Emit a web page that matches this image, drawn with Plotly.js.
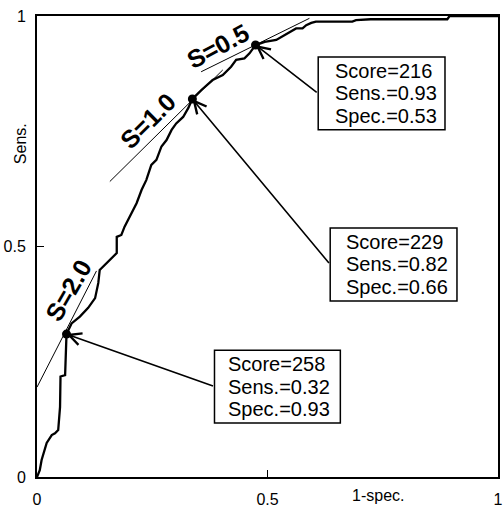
<!DOCTYPE html>
<html>
<head>
<meta charset="utf-8">
<script src="https://cdn.plot.ly/plotly-3.0.1.min.js"></script>
<style>html,body{margin:0;padding:0;background:#fff;}#chart{width:503px;height:507px;}</style>
</head>
<body>
<div id="chart"></div>
<script>
// ROC curve (1-spec., Sens.)
const rocX = [0, 0.006, 0.010, 0.017, 0.021, 0.032, 0.039, 0.046, 0.050, 0.051, 0.061, 0.064, 0.075, 0.093, 0.111, 0.126, 0.133, 0.136, 0.147, 0.162, 0.173, 0.173, 0.183, 0.190, 0.205, 0.216, 0.227, 0.237, 0.248, 0.259, 0.270, 0.281, 0.292, 0.302, 0.317, 0.328, 0.337, 0.356, 0.381, 0.403, 0.421, 0.432, 0.450, 0.461, 0.474, 0.494, 0.519, 0.537, 0.551, 0.562, 0.576, 0.584, 0.595, 0.605, 0.634, 0.684, 0.692, 0.724, 0.890, 0.895, 1.0];
const rocY = [0, 0.015, 0.037, 0.059, 0.074, 0.091, 0.095, 0.102, 0.152, 0.218, 0.221, 0.310, 0.333, 0.348, 0.367, 0.388, 0.421, 0.449, 0.460, 0.475, 0.486, 0.521, 0.525, 0.543, 0.573, 0.594, 0.623, 0.644, 0.677, 0.688, 0.717, 0.731, 0.753, 0.767, 0.781, 0.800, 0.820, 0.839, 0.861, 0.872, 0.890, 0.905, 0.908, 0.919, 0.937, 0.944, 0.948, 0.959, 0.966, 0.973, 0.973, 0.980, 0.985, 0.988, 0.988, 0.988, 0.991, 0.993, 0.993, 1.0, 1.0];

// Highlighted cut-off points
const scores = [258, 229, 216];
const sensVals = [0.32, 0.82, 0.93];
const specVals = [0.93, 0.66, 0.53];
const ptX = [0.064, 0.337, 0.474];
const ptY = [0.310, 0.820, 0.937];

// Tangent lines (slopes S)
const slopeLabels = ['S=2.0', 'S=1.0', 'S=0.5'];
const tanX = [[0, 0.129], [0.158, 0.403], [0.356, 0.591]];
const tanY = [[0.195, 0.447], [0.641, 0.883], [0.879, 0.995]];

// Axis ticks
const tickVals = [0, 0.5, 1];
const tickText = ['0', '0.5', '1'];

const FONT = 'Liberation Sans, Arial, Helvetica, sans-serif';

const traces = [];
for (let i = 0; i < tanX.length; i++) {
  traces.push({x: tanX[i], y: tanY[i], mode: 'lines', line: {color: '#000', width: 1}, hoverinfo: 'skip', showlegend: false});
}
traces.push({x: rocX, y: rocY, mode: 'lines', line: {color: '#000', width: 2.3}, showlegend: false});
traces.push({x: ptX, y: ptY, mode: 'markers', marker: {color: '#000', size: 9}, showlegend: false});

// layout decorations: boxes [x0,x1,y0,y1] (data coords), text left x, label placement
const boxes = [[0.385, 0.658, 0.117, 0.275], [0.636, 0.911, 0.382, 0.540], [0.610, 0.885, 0.753, 0.911]];
const textLeft = [0.411, 0.667, 0.641];
const labelPos = [[0.068, 0.406, -60], [0.240, 0.772, -45], [0.393, 0.934, -28]];
const lineStep = 0.0488;

const shapes = [];
const annotations = [];
for (let i = 0; i < scores.length; i++) {
  const b = boxes[i];
  shapes.push({type: 'rect', xref: 'x', yref: 'y', x0: b[0], x1: b[1], y0: b[2], y1: b[3], line: {color: '#000', width: 1.5}, fillcolor: 'rgba(0,0,0,0)'});
  const cy = (b[2] + b[3]) / 2;
  const lines = ['Score=' + scores[i], 'Sens.=' + sensVals[i].toFixed(2), 'Spec.=' + specVals[i].toFixed(2)];
  lines.forEach((t, k) => {
    annotations.push({x: textLeft[i], y: cy + lineStep * (1 - k), xref: 'x', yref: 'y', text: t, showarrow: false, xanchor: 'left', yanchor: 'middle', font: {family: FONT, size: 20, color: '#000'}});
  });
  annotations.push({x: ptX[i], y: ptY[i], xref: 'x', yref: 'y', ax: b[0], ay: cy, axref: 'x', ayref: 'y', text: '', showarrow: true, arrowhead: 5, arrowsize: 1.5, arrowwidth: 1.6, arrowcolor: '#000', standoff: 0, startstandoff: 0});
  annotations.push({x: labelPos[i][0], y: labelPos[i][1], xref: 'x', yref: 'y', text: '<b>' + slopeLabels[i] + '</b>', textangle: labelPos[i][2], showarrow: false, font: {family: FONT, size: 25, color: '#000'}});
}
annotations.push({x: 0.74, y: -0.041, xref: 'paper', yref: 'paper', text: '1-spec.', showarrow: false, xanchor: 'center', yanchor: 'middle', font: {family: FONT, size: 16, color: '#000'}});
annotations.push({x: -0.037, y: 0.724, xref: 'paper', yref: 'paper', text: 'Sens.', textangle: -90, showarrow: false, xanchor: 'center', yanchor: 'middle', font: {family: FONT, size: 16, color: '#000'}});

const axisCommon = {
  range: [0, 1], tickvals: tickVals, ticktext: tickText, ticks: 'inside', ticklen: 7, tickwidth: 1, tickcolor: '#000',
  showgrid: false, zeroline: false, showline: true, linecolor: '#000', linewidth: 2, mirror: true,
  tickfont: {family: FONT, size: 16, color: '#000'}, fixedrange: true
};

const layout = {
  width: 503, height: 507,
  margin: {l: 37, r: 5, t: 16, b: 30, pad: 0},
  paper_bgcolor: '#fff', plot_bgcolor: '#fff',
  xaxis: Object.assign({}, axisCommon, {ticklabelstandoff: 7}),
  yaxis: Object.assign({}, axisCommon, {ticklabelstandoff: 6}),
  shapes: shapes,
  annotations: annotations,
  showlegend: false
};

Plotly.newPlot('chart', traces, layout, {displayModeBar: false, staticPlot: true});
</script>
</body>
</html>
